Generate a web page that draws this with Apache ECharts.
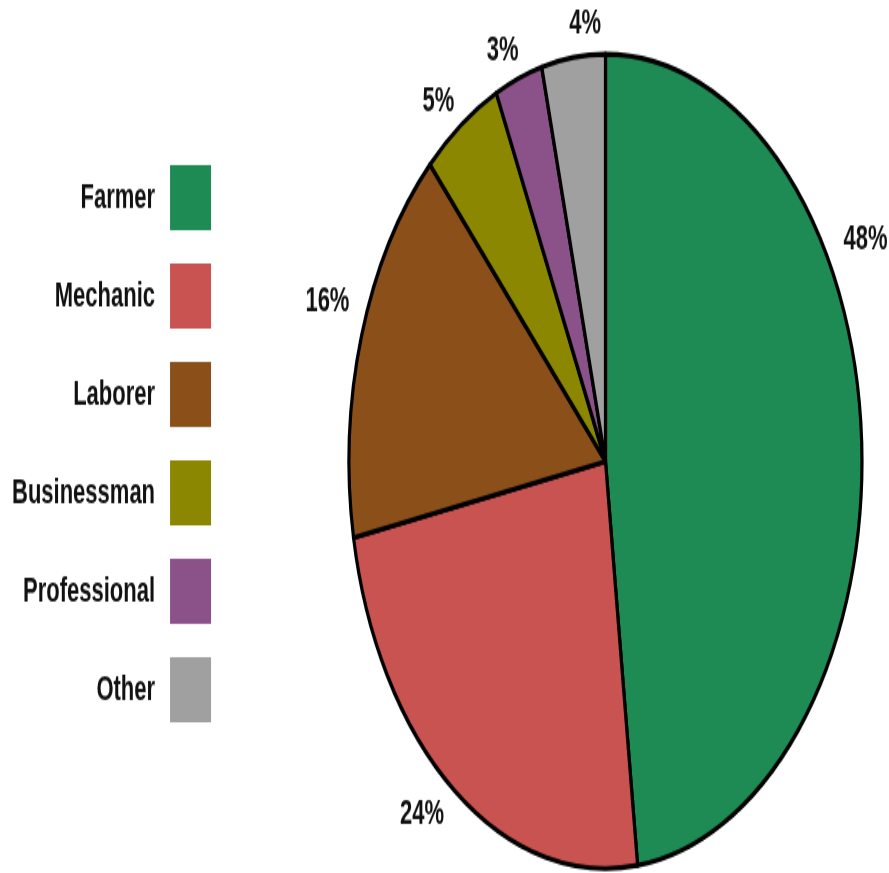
<!DOCTYPE html>
<html style="height: 100%">
<head>
    <meta charset="utf-8">
    <script src="https://cdn.jsdelivr.net/npm/echarts@6/dist/echarts.min.js"></script>
</head>
<body style="height: 100%; margin: 0; overflow: hidden; background: #fff">
    <!-- the reference is a stretched picture, so the chart is drawn flat and scaled in y -->
    <div id="main" style="width: 889px; height: 550px; transform: scaleY(1.5873); transform-origin: 0 0;"></div>
    <script type="text/javascript">
    var categories = ['Farmer', 'Mechanic', 'Laborer', 'Businessman', 'Professional', 'Other'];
    var shares = [48, 24, 16, 5, 3, 4];
    var colors = ['#1f8b54', '#c85351', '#8b4f19', '#8b8700', '#8b528a', '#a0a0a0'];

    var myChart = echarts.init(document.getElementById('main'));
    var font = 'Liberation Sans, Arial, sans-serif';

    var option = {
        animation: false,
        color: colors,
        legend: {
            orient: 'vertical',
            left: 12,
            top: 104,
            padding: 0,
            align: 'right',
            itemWidth: 41,
            itemHeight: 41,
            itemGap: 21,
            icon: 'rect',
            selectedMode: false,
            itemStyle: { borderWidth: 0 },
            textStyle: {
                fontFamily: font,
                fontSize: 22,
                fontWeight: 'bold',
                color: '#111',
                padding: [0, 10, 0, 0]
            },
            data: categories
        },
        series: [{
            type: 'pie',
            center: [605.5, 290.7],
            radius: 256.5,
            startAngle: 90,
            clockwise: true,
            avoidLabelOverlap: false,
            silent: true,
            itemStyle: {
                borderColor: '#000',
                borderWidth: 3.2
            },
            label: {
                show: true,
                position: 'outside',
                formatter: '{c}%',
                fontFamily: font,
                fontSize: 22,
                fontWeight: 'bold',
                color: '#111',
                distanceToLabelLine: 0
            },
            labelLine: { show: false, length: 18, length2: 0 },
            // a few labels sit off their mid angle in the original
            labelLayout: function (p) {
                if (p.dataIndex === 0) return { dx: -36, dy: -123 };
                if (p.dataIndex === 2) return { dx: 5, dy: -16 };
                if (p.dataIndex === 3) return { dx: 3 };
                if (p.dataIndex === 4) return { dx: 6 };
                if (p.dataIndex === 5) return { dx: 30, dy: -3 };
            },
            data: categories.map(function (c, i) {
                return { name: c, value: shares[i] };
            })
        }]
    };

    myChart.setOption(option, true);
    </script>
</body>
</html>
